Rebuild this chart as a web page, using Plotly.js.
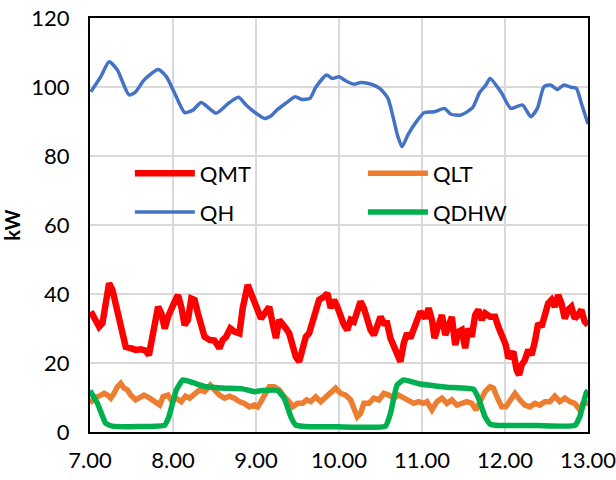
<!DOCTYPE html>
<html>
<head>
<meta charset="utf-8">
<script src="https://cdn.plot.ly/plotly-3.0.1.min.js"></script>
<style>
  html, body { margin: 0; padding: 0; background: #fff; }
  #chart { width: 616px; height: 480px; }
</style>
</head>
<body>
<div id="chart"></div>
<script>
// Heat demand by circuit over the day (hour of day, kW)
const tQMT = [7.01,7.05,7.11,7.15,7.19,7.23,7.27,7.31,7.35,7.39,7.43,7.49,7.55,7.61,7.67,7.71,7.74,7.78,7.82,7.86,7.90,7.94,7.98,8.02,8.06,8.10,8.14,8.18,8.22,8.26,8.30,8.34,8.38,8.44,8.50,8.56,8.60,8.64,8.69,8.74,8.80,8.84,8.90,8.94,8.98,9.02,9.06,9.12,9.16,9.20,9.24,9.28,9.32,9.36,9.40,9.44,9.48,9.52,9.56,9.60,9.64,9.68,9.72,9.76,9.82,9.86,9.90,9.94,9.98,10.02,10.06,10.10,10.14,10.18,10.22,10.26,10.30,10.34,10.38,10.42,10.46,10.50,10.54,10.58,10.62,10.66,10.70,10.74,10.78,10.82,10.86,10.90,10.94,10.98,11.04,11.08,11.12,11.15,11.20,11.24,11.28,11.32,11.36,11.40,11.44,11.48,11.52,11.56,11.60,11.64,11.68,11.72,11.76,11.82,11.88,11.92,11.96,12.01,12.04,12.10,12.14,12.17,12.20,12.24,12.28,12.32,12.36,12.40,12.44,12.48,12.52,12.56,12.60,12.64,12.68,12.72,12.76,12.80,12.84,12.88,12.92,12.96,13.00];
const qMT = [34.9,33.4,30.5,31.5,37.3,43.1,41.2,37.3,32.5,27.6,24.7,24.3,23.8,24.0,23.6,22.3,25.7,31.5,36.3,34.4,30.0,33.4,36.3,37.8,39.7,36.3,31.0,32.5,38.7,38.3,34.4,31.5,27.6,26.7,26.5,24.3,26.7,27.6,30.0,29.1,28.6,35.9,42.6,40.2,37.3,34.4,32.9,34.9,36.3,31.5,27.2,32.5,31.5,30.0,28.6,24.3,21.8,20.4,24.7,27.6,28.6,31.5,35.4,38.3,39.2,40.2,35.9,38.3,36.3,33.4,31.0,29.6,32.5,32.0,35.4,37.8,35.9,32.5,29.6,28.1,31.0,33.4,31.5,31.5,27.2,24.7,21.8,20.4,25.7,28.6,27.2,29.6,32.5,34.9,33.0,35.9,32.5,27.2,31.0,33.9,28.1,31.5,33.4,25.2,29.1,29.6,24.3,30.0,27.6,33.9,35.4,32.5,34.4,33.4,33.4,30.5,27.6,25.2,21.4,23.3,18.0,16.5,19.4,20.9,23.8,22.3,26.2,31.5,30.5,33.4,37.3,38.3,36.3,39.7,37.3,32.9,35.4,36.3,32.9,33.9,35.4,32.0,31.0];

const tQLT = [7.00,7.05,7.11,7.17,7.21,7.25,7.29,7.33,7.37,7.41,7.45,7.49,7.55,7.60,7.65,7.72,7.78,7.84,7.88,7.94,7.99,8.04,8.10,8.15,8.20,8.26,8.32,8.38,8.45,8.50,8.56,8.62,8.68,8.74,8.80,8.86,8.92,8.98,9.02,9.06,9.10,9.16,9.22,9.28,9.34,9.40,9.44,9.50,9.56,9.61,9.66,9.72,9.78,9.84,9.90,9.96,10.02,10.08,10.14,10.18,10.22,10.26,10.30,10.36,10.42,10.48,10.54,10.60,10.66,10.72,10.78,10.84,10.90,10.96,11.02,11.06,11.12,11.18,11.24,11.30,11.36,11.42,11.48,11.54,11.60,11.65,11.70,11.76,11.82,11.86,11.91,11.96,12.01,12.06,12.12,12.18,12.24,12.30,12.36,12.42,12.48,12.54,12.60,12.66,12.72,12.78,12.84,12.90,12.94,13.00];
const qLT = [8.3,9.8,10.4,11.2,10.7,9.8,11.2,13.1,14.1,12.7,12.2,10.7,9.3,10.2,10.7,9.8,8.8,7.8,10.2,10.7,8.8,9.8,8.8,10.4,9.8,11.2,12.2,11.7,13.6,12.2,10.7,9.8,10.4,9.8,8.8,8.3,7.3,7.8,7.3,8.8,10.7,13.1,13.1,12.2,10.2,8.8,7.3,8.3,8.3,9.3,8.8,10.2,8.8,10.2,11.2,12.7,11.2,10.7,9.3,6.9,4.4,5.4,8.3,8.3,9.8,9.3,11.2,10.7,9.8,10.7,9.8,9.3,8.3,8.8,8.3,8.8,6.4,8.8,9.8,8.3,9.3,7.8,8.3,8.8,8.3,6.4,8.8,11.7,13.1,12.7,9.8,7.3,7.3,8.8,11.2,9.3,7.8,7.3,8.3,7.8,8.8,8.8,10.4,8.8,9.8,8.8,8.3,6.4,8.3,8.3];

const tQH = [7.01,7.13,7.23,7.33,7.47,7.55,7.65,7.82,7.92,8.02,8.14,8.24,8.34,8.52,8.68,8.79,8.88,9.00,9.10,9.18,9.26,9.36,9.47,9.55,9.65,9.72,9.85,9.92,10.00,10.08,10.18,10.26,10.39,10.49,10.59,10.65,10.71,10.76,10.83,10.93,11.03,11.15,11.27,11.35,11.47,11.61,11.69,11.77,11.82,11.95,12.07,12.21,12.31,12.39,12.47,12.55,12.63,12.71,12.80,12.86,12.92,13.00];
const qH = [98.6,103.0,107.3,104.9,97.7,98.6,102.0,105.1,103.0,98.2,92.6,93.3,95.5,92.4,95.5,97.0,94.8,92.4,90.9,91.6,93.5,95.3,97.2,96.4,96.7,99.9,103.5,102.5,103.0,101.8,100.8,101.3,100.8,99.6,96.7,91.4,85.6,82.7,86.1,89.9,92.6,92.8,93.8,92.1,91.9,94.0,98.2,100.6,102.5,98.6,93.8,94.8,91.4,93.8,100.1,100.6,99.3,100.6,99.9,99.6,95.3,89.3];

const tQDHW = [7.00,7.09,7.19,7.27,7.90,7.95,8.04,8.12,8.24,8.40,8.64,8.84,8.98,9.07,9.26,9.34,9.42,9.48,9.56,9.98,10.56,10.62,10.70,10.78,10.98,11.30,11.62,11.68,11.76,11.82,11.92,12.38,12.84,12.90,12.98,13.00];
const qDHW = [12.0,8.3,2.5,1.7,2.0,4.4,12.2,15.1,14.3,13.1,12.7,12.5,11.7,12.0,12.0,9.8,4.4,2.0,1.7,1.5,1.7,5.4,13.6,15.1,13.9,13.0,12.4,9.8,4.4,2.3,1.9,1.9,1.9,4.4,11.4,12.0];

const seriesNames = ['QMT', 'QLT', 'QH', 'QDHW'];
const xTickVals = [7, 8, 9, 10, 11, 12, 13];
const yTickVals = [0, 20, 40, 60, 80, 100, 120];

const FONT = 'Lato, "Open Sans", "Liberation Sans", sans-serif';

const traces = [
  {
    x: tQMT, y: qMT, name: seriesNames[0], type: 'scatter', mode: 'lines',
    line: { color: '#FF0000', width: 6.5 },
    legend: 'legend', legendgroup: 'a'
  },
  {
    x: tQLT, y: qLT, name: seriesNames[1], type: 'scatter', mode: 'lines',
    line: { color: '#ED7D31', width: 5.5 },
    legend: 'legend2', legendgroup: 'c'
  },
  {
    x: tQH, y: qH, name: seriesNames[2], type: 'scatter', mode: 'lines',
    line: { color: '#4472C4', width: 3.5, shape: 'spline', smoothing: 0.6 },
    legend: 'legend', legendgroup: 'b'
  },
  {
    x: tQDHW, y: qDHW, name: seriesNames[3], type: 'scatter', mode: 'lines',
    line: { color: '#00B050', width: 5.5, shape: 'spline', smoothing: 0.4 },
    legend: 'legend2', legendgroup: 'd'
  }
];

const legendCommon = {
  orientation: 'v',
  xref: 'paper', yref: 'paper',
  xanchor: 'left', yanchor: 'top',
  y: 0.675,
  bgcolor: 'rgba(0,0,0,0)',
  borderwidth: 0,
  traceorder: 'grouped',
  tracegroupgap: 7,
  itemwidth: 60,
  font: { family: FONT, size: 22, color: '#000' }
};

const layout = {
  width: 616,
  height: 480,
  margin: { l: 90, r: 28, t: 18, b: 48 },
  paper_bgcolor: '#fff',
  plot_bgcolor: '#fff',
  font: { family: FONT, size: 22, color: '#000' },
  showlegend: true,
  legend: Object.assign({}, legendCommon, { x: 0.08 }),
  legend2: Object.assign({}, legendCommon, { x: 0.548 }),
  xaxis: {
    range: [7, 13],
    tickvals: xTickVals,
    tickformat: '.2f',
    ticklabeloverflow: 'allow',
    showgrid: true,
    gridcolor: '#d9d9d9',
    gridwidth: 2,
    zeroline: false,
    showline: true,
    mirror: true,
    linecolor: '#000',
    linewidth: 2,
    ticks: 'outside',
    ticklen: 8,
    tickcolor: 'rgba(0,0,0,0)',
    tickfont: { family: FONT, size: 22, color: '#000' }
  },
  yaxis: {
    range: [0, 120],
    tickvals: yTickVals,
    showgrid: true,
    gridcolor: '#d9d9d9',
    gridwidth: 2,
    zeroline: false,
    showline: true,
    mirror: true,
    linecolor: '#000',
    linewidth: 2,
    ticks: 'outside',
    ticklen: 14,
    tickcolor: 'rgba(0,0,0,0)',
    tickfont: { family: FONT, size: 22, color: '#000' },
    title: {
      text: '<b>kW</b>',
      font: { family: FONT, size: 20, color: '#000' },
      standoff: 8
    }
  }
};

Plotly.newPlot('chart', traces, layout, { displayModeBar: false, staticPlot: true });
</script>
</body>
</html>
